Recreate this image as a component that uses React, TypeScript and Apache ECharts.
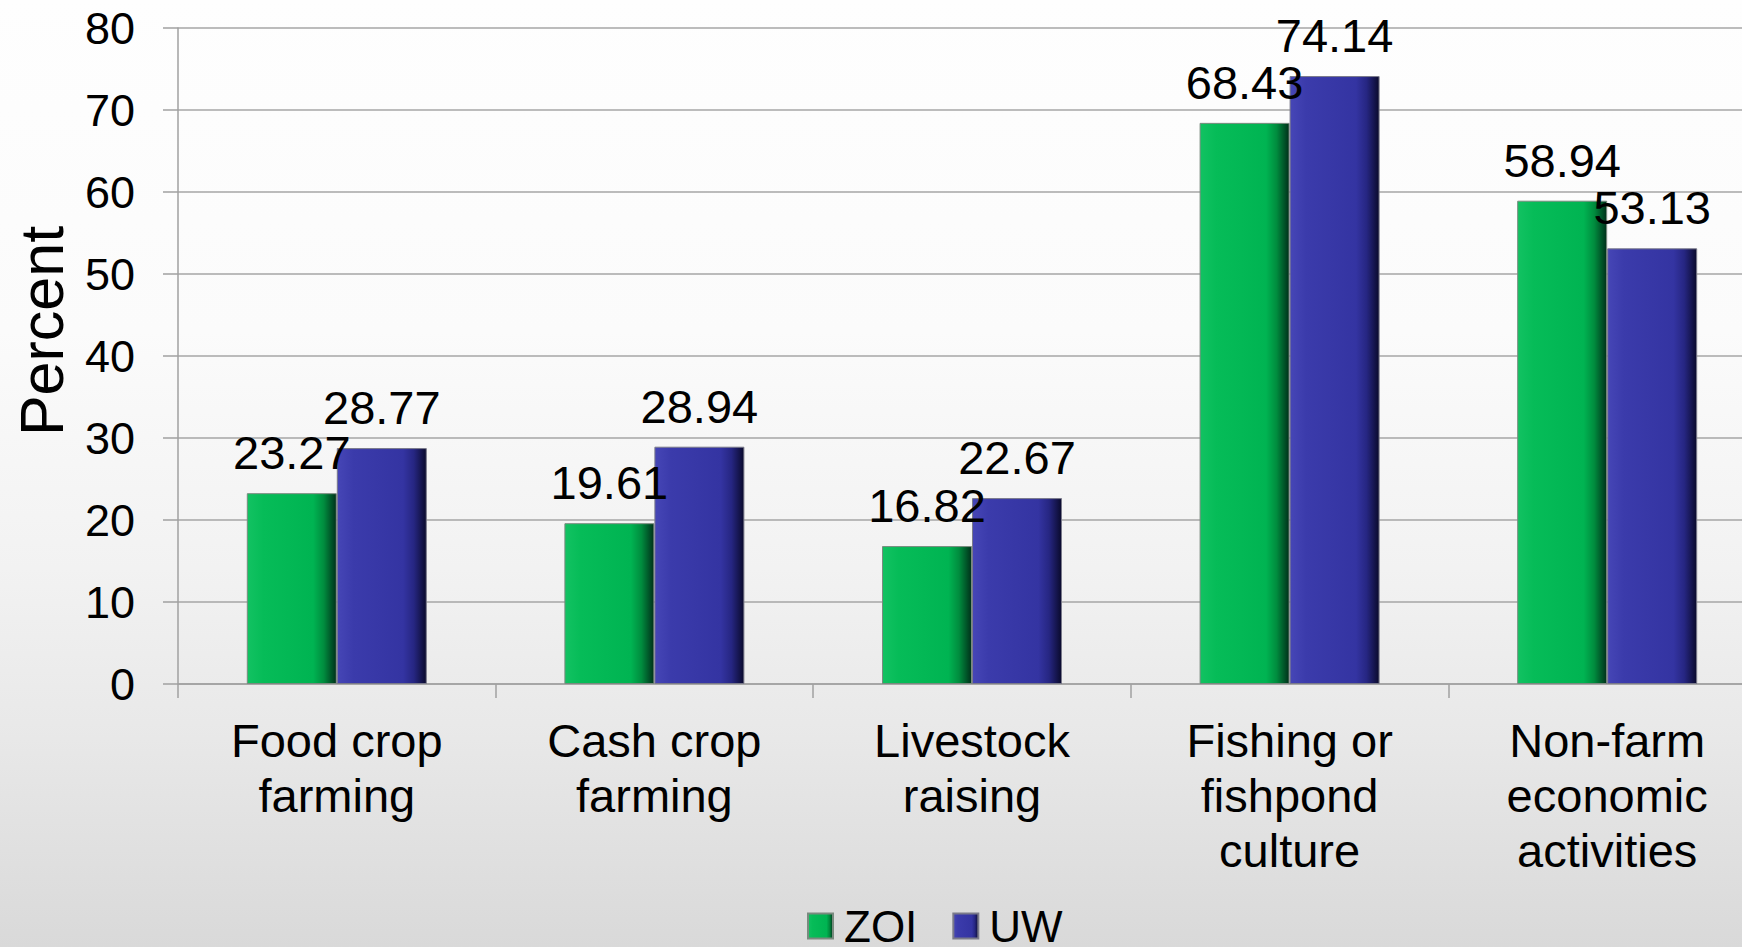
import React, { useEffect, useRef } from "react";
import * as echarts from "echarts";

const categories = [
  "Food crop\nfarming",
  "Cash crop\nfarming",
  "Livestock\nraising",
  "Fishing or\nfishpond\nculture",
  "Non-farm\neconomic\nactivities",
];
const zoiValues = [23.27, 19.61, 16.82, 68.43, 58.94];
const uwValues = [28.77, 28.94, 22.67, 74.14, 53.13];
const seriesNames = ["ZOI", "UW"];
const axisName = "Percent";

const FONT = '"Liberation Sans", Arial, sans-serif';

const greenFill = {
  type: "linear",
  x: 0,
  y: 0,
  x2: 1,
  y2: 0,
  colorStops: [
    { offset: 0, color: "#12c262" },
    { offset: 0.18, color: "#06bc58" },
    { offset: 0.74, color: "#00b452" },
    { offset: 0.86, color: "#008c3e" },
    { offset: 1, color: "#00301a" },
  ],
};
const blueFill = {
  type: "linear",
  x: 0,
  y: 0,
  x2: 1,
  y2: 0,
  colorStops: [
    { offset: 0, color: "#4646b6" },
    { offset: 0.18, color: "#3b3bab" },
    { offset: 0.74, color: "#3434a2" },
    { offset: 0.86, color: "#262682" },
    { offset: 1, color: "#0a0a2c" },
  ],
};

export default function App() {
  const ref = useRef<HTMLDivElement>(null);
  useEffect(() => {
    if (!ref.current) return;
    const chart = echarts.init(ref.current, null, { renderer: "svg" });
    const labelCfg = {
      show: true,
      position: "top",
      distance: 17,
      color: "#000",
      fontFamily: FONT,
      fontSize: 47,
      formatter: (p: any) => Number(p.value).toFixed(2),
    };
    chart.setOption({
      animation: false,
      backgroundColor: "transparent",
      textStyle: { fontFamily: FONT },
      grid: { left: 178, top: 28, bottom: 263, right: 0, containLabel: false },
      legend: {
        data: seriesNames,
        left: 807,
        top: 904,
        padding: 0,
        itemWidth: 25,
        itemHeight: 25,
        itemGap: 35,
        textStyle: {
          fontSize: 44,
          lineHeight: 34,
          color: "#000",
          fontFamily: FONT,
          padding: [0, 0, 0, 6],
        },
        icon: "rect",
      },
      xAxis: {
        type: "category",
        data: categories,
        axisLine: { show: true, lineStyle: { color: "#a0a0a0", width: 1.5 } },
        axisTick: { show: true, length: 14, lineStyle: { color: "#a0a0a0", width: 1.5 } },
        axisLabel: {
          color: "#000",
          fontSize: 47,
          lineHeight: 55,
          margin: 29,
          fontFamily: FONT,
          interval: 0,
        },
      },
      yAxis: {
        type: "value",
        min: 0,
        max: 80,
        interval: 10,
        name: axisName,
        nameLocation: "middle",
        nameRotate: 90,
        nameGap: 106,
        nameTextStyle: {
          fontSize: 61,
          color: "#000",
          fontFamily: FONT,
          padding: [0, 0, 0, 50],
        },
        axisLine: { show: true, lineStyle: { color: "#a0a0a0", width: 1.5 } },
        axisTick: { show: true, length: 15, lineStyle: { color: "#a0a0a0", width: 1.5 } },
        axisLabel: { color: "#000", fontSize: 45, margin: 43, fontFamily: FONT },
        splitLine: { show: true, lineStyle: { color: "#a6a6a6", width: 1.5 } },
      },
      series: [
        {
          name: seriesNames[0],
          type: "bar",
          data: zoiValues,
          barWidth: 90,
          barGap: "0%",
          itemStyle: { color: greenFill, borderColor: "#7a8a7f", borderWidth: 1 },
          label: labelCfg,
        },
        {
          name: seriesNames[1],
          type: "bar",
          data: uwValues,
          barWidth: 90,
          barGap: "0%",
          itemStyle: { color: blueFill, borderColor: "#7a7a8a", borderWidth: 1 },
          label: labelCfg,
        },
      ],
    });
    return () => chart.dispose();
  }, []);
  return (
    <div
      style={{
        position: "absolute",
        left: 0,
        top: 0,
        width: 1742,
        height: 947,
        overflow: "hidden",
        background:
          "linear-gradient(to bottom, #fefefe 0%, #fbfbfb 35%, #f2f2f2 60%, #e8e8e8 78%, #d9d9d9 100%)",
      }}
    >
      <div ref={ref} style={{ width: 1766, height: 947 }} />
    </div>
  );
}
